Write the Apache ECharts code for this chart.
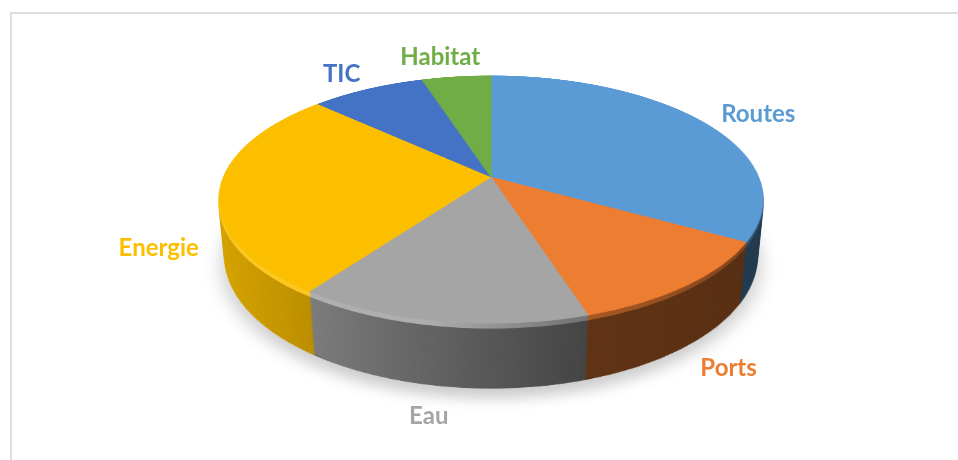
<!DOCTYPE html>
<html>
<head>
<meta charset="utf-8">
<script src="https://cdn.jsdelivr.net/npm/echarts@6/dist/echarts.min.js"></script>
<style>
  html, body { margin: 0; padding: 0; background: #fff; overflow: hidden; }
  #stage { position: absolute; left: 0; top: 0; width: 958px; height: 460px; overflow: hidden; }
  #frame { position: absolute; left: 10px; top: 12px; width: 2000px; height: 2000px; border: 2px solid #dedede; }
  #scene { position: absolute; left: 0; top: 0; width: 958px; height: 460px; perspective: 1321px; perspective-origin: 491px 177px; }
  #labels { position: absolute; left: 0; top: 0; width: 958px; height: 460px; }
</style>
</head>
<body>
<div id="stage">
  <div id="frame"></div>
  <div id="scene"></div>
  <div id="labels"></div>
</div>
<script>
    // data
    const categories = ['Routes', 'Ports', 'Eau', 'Energie', 'TIC', 'Habitat'];
    const values = [33.3, 11.9, 14.7, 27.2, 8.1, 4.9];
    const colors = ['#5b9bd5', '#ed7d31', '#a5a5a5', '#fbbf00', '#4472c4', '#70ad47'];

    // 3d look
    const TILT = 63.4;      // deg, rotateX of the pie plane
    const PERSP = 1321;
    const R = 267.5;        // pie radius in the plane
    const DEPTH = 64.7;     // thickness of the pie
    const CX = 491, CY = 177;
    const LAYERS = 40;
    const BOX = 600;
    const BEVEL = 5;

    // shading of the wall, left -> right
    const sideStops = [[0, 0.86], [0.16, 0.78], [0.65, 0.41], [1, 0.36]];
    const bevelStops = [[0, 1.14], [0.4, 1.1], [0.62, 0.72], [1, 0.5]];

    function shade(hex, f) {
        let n = parseInt(hex.slice(1), 16);
        let c = [(n >> 16) & 255, (n >> 8) & 255, n & 255].map(v => {
            let r = f <= 1 ? v * f : v + (255 - v) * (f - 1);
            return Math.round(Math.max(0, Math.min(255, r)));
        });
        return 'rgb(' + c.join(',') + ')';
    }

    function wallFill(hex, stops) {
        return new echarts.graphic.LinearGradient(BOX / 2 - R, 0, BOX / 2 + R, 0,
            stops.map(s => ({offset: s[0], color: shade(hex, s[1])})), true);
    }

    const scene = document.getElementById('scene');
    for (let i = LAYERS; i >= 0; i--) {
        let d = DEPTH * i / LAYERS;
        let div = document.createElement('div');
        div.style.cssText = 'position:absolute;width:' + BOX + 'px;height:' + BOX + 'px;left:' + (CX - BOX / 2) +
            'px;top:' + (CY - BOX / 2) + 'px;transform:rotateX(' + TILT + 'deg) translateZ(' + (-d) + 'px);';
        scene.appendChild(div);
        let chart = echarts.init(div, null, {renderer: 'svg'});
        chart.setOption({
            animation: false,
            series: [{
                type: 'pie',
                silent: true,
                radius: R,
                center: ['50%', '50%'],
                startAngle: 90,
                label: {show: false},
                labelLine: {show: false},
                data: categories.map((name, k) => {
                    let fill = i === 0 ? colors[k] : wallFill(colors[k], d <= BEVEL ? bevelStops : sideStops);
                    let style = {color: fill, borderColor: fill, borderWidth: 1};
                    if (i === LAYERS) {
                        style.shadowBlur = 18;
                        style.shadowOffsetY = 14;
                        style.shadowColor = 'rgba(0,0,0,0.2)';
                    }
                    return {name: name, value: values[k], itemStyle: style};
                })
            }]
        });
    }

    // labels, placed around the projected pie
    const total = values.reduce((a, b) => a + b, 0);
    function labelPos(params) {
        let idx = params.dataIndex;
        let acc = 0;
        for (let k = 0; k < idx; k++) acc += values[k];
        acc += values[idx] / 2;
        let m = acc / total * Math.PI * 2;
        let a = TILT * Math.PI / 180;
        let rho = R * 1.1;
        let px = rho * Math.sin(m), py = -rho * Math.cos(m);
        let pz = Math.cos(m) < 0 ? -DEPTH : 0;
        let yv = py * Math.cos(a) - pz * Math.sin(a);
        let zv = py * Math.sin(a) + pz * Math.cos(a);
        let s = PERSP / (PERSP - zv);
        let ux = Math.sin(m), uy = -Math.cos(m) * Math.cos(a);
        let len = Math.sqrt(ux * ux + uy * uy);
        ux /= len; uy /= len;
        let w = params.labelRect.width, h = params.labelRect.height;
        return {
            x: CX + px * s + ux * w / 2,
            y: CY + yv * s + uy * h / 2,
            align: 'center',
            verticalAlign: 'middle'
        };
    }

    let labelChart = echarts.init(document.getElementById('labels'));
    labelChart.setOption({
        animation: false,
        series: [{
            type: 'pie',
            silent: true,
            radius: 50,
            center: [CX, CY],
            startAngle: 90,
            avoidLabelOverlap: false,
            itemStyle: {color: 'rgba(0,0,0,0)'},
            label: {
                show: true,
                formatter: '{b}',
                fontFamily: 'Lato',
                fontWeight: 'bold',
                fontSize: 24
            },
            labelLine: {show: false},
            labelLayout: labelPos,
            data: categories.map((name, k) => ({
                name: name,
                value: values[k],
                label: {color: colors[k]}
            }))
        }]
    });
</script>
</body>
</html>
